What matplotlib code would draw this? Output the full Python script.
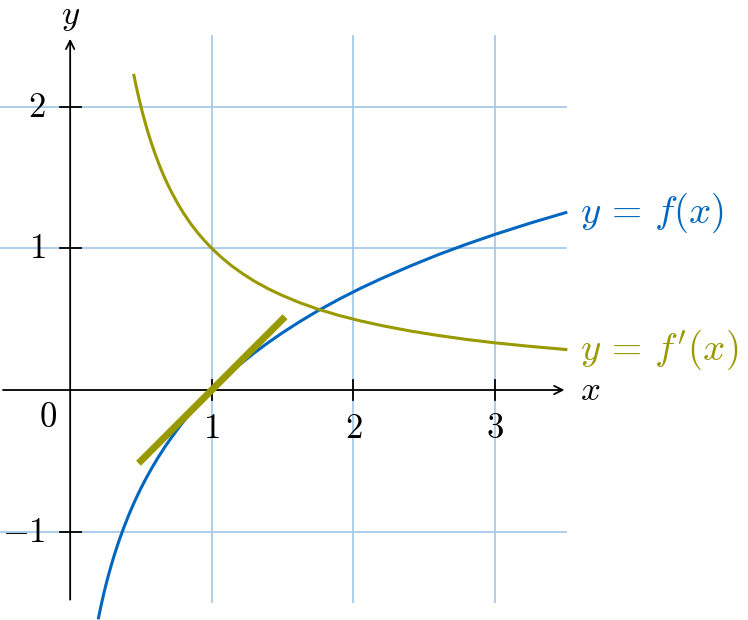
import matplotlib.pyplot as plt

plt.rcParams['mathtext.fontset'] = 'cm'

# curve y = f(x)
x_f = [0.20, 0.21, 0.22, 0.23, 0.24, 0.25, 0.27, 0.29, 0.31, 0.33, 0.35, 0.38, 0.41, 0.44,
       0.47, 0.50, 0.54, 0.58, 0.62, 0.67, 0.72, 0.78, 0.84, 0.90, 0.97, 1.04, 1.12, 1.20,
       1.30, 1.40, 1.50, 1.62, 1.75, 1.90, 2.05, 2.20, 2.40, 2.60, 2.80, 3.00, 3.25, 3.50]
y_f = [-1.609, -1.561, -1.514, -1.470, -1.427, -1.386, -1.309, -1.238, -1.171, -1.109,
       -1.050, -0.968, -0.892, -0.821, -0.755, -0.693, -0.616, -0.545, -0.478, -0.400,
       -0.329, -0.248, -0.174, -0.105, -0.030, 0.039, 0.113, 0.182, 0.262, 0.336, 0.405,
       0.482, 0.560, 0.642, 0.718, 0.788, 0.875, 0.956, 1.030, 1.099, 1.179, 1.253]

# curve y = f'(x)
x_df = [0.45, 0.47, 0.49, 0.51, 0.53, 0.55, 0.57, 0.60, 0.63, 0.66, 0.69, 0.72, 0.76, 0.80,
        0.85, 0.90, 0.95, 1.00, 1.07, 1.14, 1.22, 1.30, 1.40, 1.50, 1.62, 1.75, 1.90, 2.05,
        2.20, 2.40, 2.60, 2.80, 3.00, 3.25, 3.50]
y_df = [2.222, 2.128, 2.041, 1.961, 1.887, 1.818, 1.754, 1.667, 1.587, 1.515, 1.449, 1.389,
        1.316, 1.250, 1.176, 1.111, 1.053, 1.000, 0.935, 0.877, 0.820, 0.769, 0.714, 0.667,
        0.617, 0.571, 0.526, 0.488, 0.455, 0.417, 0.385, 0.357, 0.333, 0.308, 0.286]

# tangent at x = 1
x_tan = [0.5, 1.5]
y_tan = [-0.5, 0.5]

x_ticks = [1, 2, 3]
y_ticks = [-1, 1, 2]

blue = '#0066bf'
olive = '#999900'
gridc = '#a6c9e8'
fs = 25

fig = plt.figure(figsize=(7.48, 6.2), dpi=100)
ax = fig.add_axes([0, 0, 1, 1])
ax.set_xlim(-0.494, 4.785)
ax.set_ylim(-1.624, 2.754)
ax.set_aspect('equal')
ax.axis('off')

x0, x1 = -0.494, 3.5
y0, y1 = -1.5, 2.5

# grid
for gx in x_ticks:
    ax.plot([gx, gx], [y0, y1], color=gridc, lw=1.3, zorder=1)
for gy in y_ticks:
    ax.plot([x0, x1], [gy, gy], color=gridc, lw=1.3, zorder=1)

# axes with arrows
ax.annotate('', xy=(x1 + 0.01, 0), xytext=(x0, 0),
            arrowprops=dict(arrowstyle='->,head_length=0.6,head_width=0.3', lw=1.3, color='black'), zorder=2)
ax.annotate('', xy=(0, y1), xytext=(0, y0),
            arrowprops=dict(arrowstyle='->,head_length=0.6,head_width=0.3', lw=1.3, color='black'), zorder=2)

# ticks
for tx in x_ticks:
    ax.plot([tx, tx], [-0.07, 0.07], color='black', lw=1.3, zorder=2)
    ax.text(tx, -0.27, f'${tx}$', ha='center', va='center', fontsize=fs)
for ty in y_ticks:
    ax.plot([-0.075, 0.075], [ty, ty], color='black', lw=1.3, zorder=2)
    ax.text(-0.17, ty, f'${ty}$', ha='right', va='center', fontsize=fs)
ax.text(-0.16, -0.19, '$0$', ha='center', va='center', fontsize=fs)

ax.text(3.6, 0.0, '$x$', ha='left', va='center', fontsize=fs)
ax.text(0.0, 2.64, '$y$', ha='center', va='center', fontsize=fs)

# curves
ax.plot(x_f, y_f, color=blue, lw=2.2, zorder=3)
ax.plot(x_df, y_df, color=olive, lw=2.2, zorder=3)
ax.plot(x_tan, y_tan, color=olive, lw=5, zorder=4)

ax.text(3.6, y_f[-1], r'$y \,=\, f(x)$', color=blue, ha='left', va='center', fontsize=28)
ax.text(3.6, y_df[-1], r"$y \,=\, f'(x)$", color=olive, ha='left', va='center', fontsize=28)

fig.savefig('out.png', dpi=100)
